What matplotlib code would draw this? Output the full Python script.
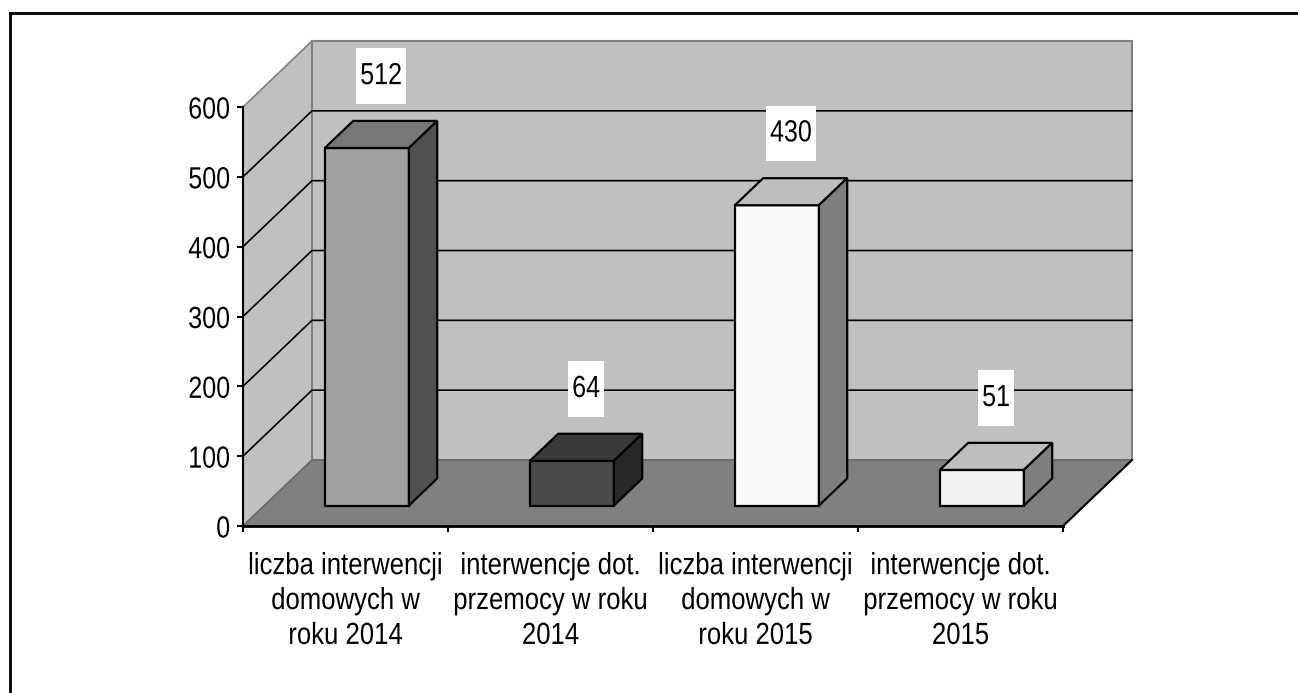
import matplotlib
matplotlib.use("Agg")
import matplotlib.pyplot as plt
from matplotlib.patches import Polygon
from matplotlib.path import Path
from matplotlib.lines import Line2D
from matplotlib.patheffects import AbstractPathEffect
from matplotlib.transforms import Affine2D, offset_copy
from matplotlib import font_manager

# ---------------- data ----------------
categories = [
    "liczba interwencji\ndomowych w\nroku 2014",
    "interwencje dot.\nprzemocy w roku\n2014",
    "liczba interwencji\ndomowych w\nroku 2015",
    "interwencje dot.\nprzemocy w roku\n2015",
]
values = [512, 64, 430, 51]
yticks = [0, 100, 200, 300, 400, 500, 600]

# ---------------- styles ----------------
front_colors = ["#A0A0A0", "#4B4B4B", "#FAFAFA", "#F2F2F2"]
top_colors = ["#787878", "#3A3A3A", "#BEBEBE", "#BEBEBE"]
side_colors = ["#505050", "#282828", "#7F7F7F", "#7F7F7F"]
WALL = "#C0C0C0"
FLOOR = "#808080"

names = {f.name for f in font_manager.fontManager.ttflist}
if "Liberation Sans Narrow" in names:
    FAMILY, FS, SX = "Liberation Sans Narrow", 22, 1.0
    CAT_FS, CAT_SX, CAT_SY = 22, 1.0, 1.0
else:
    FAMILY, FS, SX = "Liberation Sans", 22, 0.82
    CAT_FS, CAT_SX, CAT_SY = 19, 0.975, 22 / 19
plt.rcParams["font.family"] = [FAMILY, "DejaVu Sans"]


class Narrow(AbstractPathEffect):
    """Condense glyphs horizontally (Arial Narrow look); optional vertical
    scaling about each line's baseline."""

    def __init__(self, sx=0.82, anchor="center", sy=1.0):
        super().__init__()
        self.sx = sx
        self.sy = sy
        self.anchor = anchor

    def draw_path(self, renderer, gc, tpath, affine, rgbFace=None):
        ext = tpath.get_extents(affine)
        if self.anchor == "right":
            cx = ext.x1
        elif self.anchor == "left":
            cx = ext.x0
        else:
            cx = (ext.x0 + ext.x1) / 2
        by = affine.transform((0.0, 0.0))[1]
        new = affine + Affine2D().translate(-cx, -by).scale(self.sx, self.sy).translate(cx, by)
        renderer.draw_path(gc, tpath, new, rgbFace)


W, H = 1298, 693
fig = plt.figure(figsize=(W / 100, H / 100), dpi=100)
fig.patch.set_facecolor("white")

# outer frame (only left and top edges visible in the reference)
fig.add_artist(Line2D([10 / W, 10 / W], [0, 1 - 13 / H], color="black", lw=2, transform=fig.transFigure))
fig.add_artist(Line2D([10 / W, 1], [1 - 13 / H, 1 - 13 / H], color="black", lw=2, transform=fig.transFigure))

ax = fig.add_axes([243 / W, (H - 526) / H, 820 / W, 419 / H])
n = len(categories)
ymax = yticks[-1]
ax.set_xlim(0, n)
ax.set_ylim(0, ymax)
ax.patch.set_visible(False)

# depth of the 3D box in data units
DX = 69 / 205
DY = 66 * ymax / 419
F0, F1 = 0.31, 0.72   # bar depth span (fraction of floor depth)
BW = 0.41             # bar width (fraction of category)


def poly(pts, fc, ec, lw, z):
    ax.add_patch(Polygon(pts, closed=True, facecolor=fc, edgecolor=ec, linewidth=lw,
                         zorder=z, clip_on=False, joinstyle="miter"))


# walls and floor
poly([(0, 0), (0, ymax), (DX, ymax + DY), (DX, DY)], WALL, "#808080", 1.2, 0.5)
poly([(DX, DY), (n + DX, DY), (n + DX, ymax + DY), (DX, ymax + DY)], WALL, "#808080", 1.5, 0.5)
poly([(0, 0), (n, 0), (n + DX, DY), (DX, DY)], FLOOR, "#6A6A6A", 1.2, 0.6)
ax.plot([n, n + DX], [0, DY], color="black", lw=1.5, zorder=0.7, clip_on=False)

# gridlines on side and back wall
for t in yticks[1:-1]:
    ax.plot([0, DX, n + DX], [t, t + DY, t + DY], color="black", lw=1.2, zorder=0.8, clip_on=False)

# bars
ddx = (F1 - F0) * DX
ddy = (F1 - F0) * DY
for i, v in enumerate(values):
    x0 = i + 0.5 - BW / 2 + F0 * DX
    x1 = x0 + BW
    b = F0 * DY
    poly([(x0, b), (x1, b), (x1, b + v), (x0, b + v)], front_colors[i], "black", 1.6, 3)
    poly([(x0, b + v), (x1, b + v), (x1 + ddx, b + v + ddy), (x0 + ddx, b + v + ddy)],
         top_colors[i], "black", 1.6, 3)
    poly([(x1, b), (x1 + ddx, b + ddy), (x1 + ddx, b + v + ddy), (x1, b + v)],
         side_colors[i], "black", 1.6, 3)


def label_box(x0, y0, width, height, mutation_size):
    cx = x0 + width / 2
    half = width * SX / 2 + 0.13 * mutation_size
    py = 0.42 * mutation_size
    return Path([(cx - half, y0 - py), (cx + half, y0 - py),
                 (cx + half, y0 + height + py), (cx - half, y0 + height + py),
                 (cx - half, y0 - py)], closed=True)


fm = (F0 + F1) / 2
for i, v in enumerate(values):
    t = ax.annotate(str(v), xy=(i + 0.5 + fm * DX, v + fm * DY), xytext=(0, 42),
                    textcoords="offset points", ha="center", va="center", fontsize=FS,
                    bbox=dict(boxstyle=label_box, fc="white", ec="none"),
                    zorder=10, annotation_clip=False)
    t.set_path_effects([Narrow(SX, "center")])

# axes, ticks
for s in ["top", "right"]:
    ax.spines[s].set_visible(False)
ax.spines["left"].set_linewidth(1.5)
ax.spines["bottom"].set_linewidth(2)
ax.spines["left"].set_zorder(5)
ax.spines["bottom"].set_zorder(5)

ax.set_yticks(yticks)
ax.set_yticklabels([str(t) for t in yticks])
ax.tick_params(axis="y", length=4, width=1.5, pad=5, labelsize=FS, colors="black")
for lbl in ax.yaxis.get_majorticklabels():
    lbl.set_path_effects([Narrow(SX, "right")])

ax.set_xticks(range(n + 1))
ax.set_xticklabels([])
ax.tick_params(axis="x", which="major", length=4, width=1.5)

# category labels (condensed, centred under each category)
cat_trans = offset_copy(ax.get_xaxis_transform(), fig=fig, x=0, y=-21, units="points")
line_h = 41.5 / (CAT_FS * 100 / 72)
for i, c in enumerate(categories):
    t = ax.text(i + 0.5, 0, c, transform=cat_trans, ha="center", va="top",
                fontsize=CAT_FS, linespacing=line_h, clip_on=False)
    t.set_path_effects([Narrow(CAT_SX, "center", CAT_SY)])

fig.savefig("out.png", dpi=100)
